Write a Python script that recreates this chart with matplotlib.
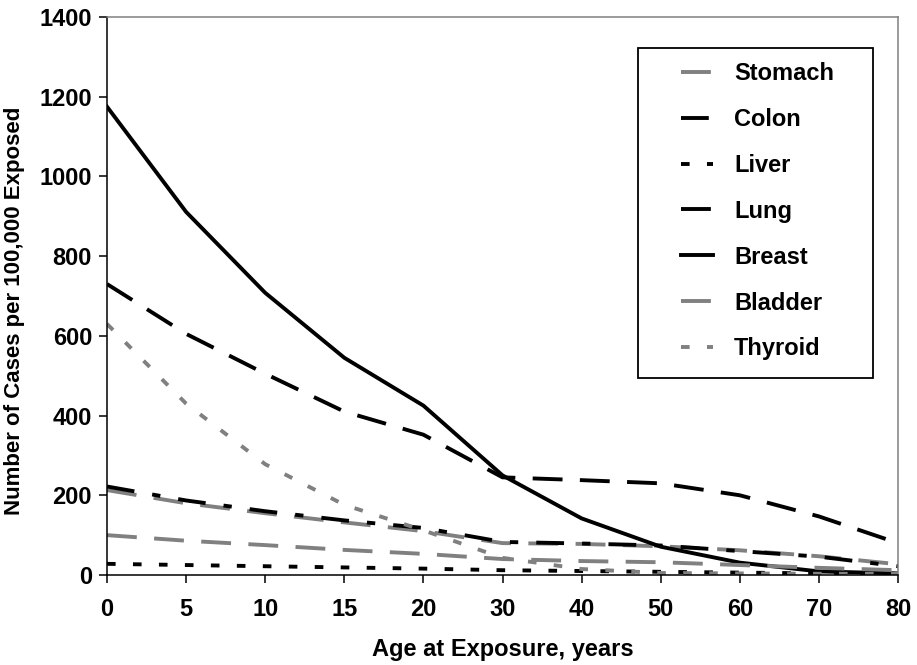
import numpy as np
import matplotlib
matplotlib.use('Agg')
import matplotlib.pyplot as plt
from matplotlib.patches import Rectangle

plt.rcParams['font.family'] = ['Liberation Sans', 'DejaVu Sans']
plt.rcParams['font.weight'] = 'bold'
plt.rcParams['axes.labelweight'] = 'bold'
plt.rcParams['lines.scale_dashes'] = False

# Age at exposure (categories, equally spaced on the axis)
ages = ['0', '5', '10', '15', '20', '30', '40', '50', '60', '70', '80']

# Cases per 100,000 exposed
stomach = [213, 180, 155, 132, 110, 80, 78, 72, 62, 47, 27]
colon = [222, 187, 160, 137, 118, 83, 79, 74, 60, 46, 22]
liver = [28, 25, 22, 19, 16, 12, 10, 8, 6, 4, 3]
lung = [730, 605, 505, 410, 352, 245, 238, 230, 200, 147, 80]
breast = [1175, 911, 708, 545, 425, 250, 142, 71, 31, 9, 4]
bladder = [100, 86, 75, 63, 53, 40, 35, 32, 25, 18, 12]
thyroid = [630, 430, 278, 176, 112, 43, 15, 5, 4, 3, 3]

gray = '#808080'
long_dash = (0, (21.5, 12.5))
dash_dot = (0, (20, 13, 6, 13))
short_dash = (0, (6.2, 12.5))
lw = 2.8

fig = plt.figure(figsize=(9.17, 6.65), dpi=100)
ax = fig.add_axes([107 / 917, 1 - 575 / 665, 791 / 917, 558 / 665])

x = np.arange(len(ages))
ax.plot(x, stomach, color=gray, linestyle=long_dash, lw=lw, label='Stomach')
ax.plot(x, colon, color='black', linestyle=dash_dot, lw=lw, label='Colon')
ax.plot(x, liver, color='black', linestyle=short_dash, lw=lw, label='Liver')
ax.plot(x, lung, color='black', linestyle=long_dash, lw=lw, label='Lung')
ax.plot(x, breast, color='black', linestyle='-', lw=lw, label='Breast')
ax.plot(x, bladder, color=gray, linestyle=long_dash, lw=lw, label='Bladder')
ax.plot(x, thyroid, color=gray, linestyle=short_dash, lw=lw, label='Thyroid')

ax.set_xlim(0, len(ages) - 1)
ax.set_ylim(0, 1400)
ax.set_xticks(x)
ax.set_xticklabels(ages)
ax.set_yticks(np.arange(0, 1401, 200))

ax.tick_params(axis='both', direction='out', length=5.8, width=1.1, labelsize=17)
ax.tick_params(axis='x', pad=11)
ax.tick_params(axis='y', pad=5)

ax.spines['left'].set_color('black')
ax.spines['bottom'].set_color('black')
ax.spines['left'].set_linewidth(1.1)
ax.spines['bottom'].set_linewidth(1.1)
ax.spines['top'].set_color(gray)
ax.spines['right'].set_color(gray)
ax.spines['top'].set_linewidth(1.1)
ax.spines['right'].set_linewidth(1.1)

ax.set_xlabel('Age at Exposure, years', fontsize=17, labelpad=12)
ax.set_ylabel('Number of Cases per 100,000 Exposed', fontsize=16)
ax.yaxis.set_label_coords(-0.104, 0.473)

leg = ax.legend(loc='upper left', bbox_to_anchor=(681 / 917, 1 - 62 / 665),
                bbox_transform=fig.transFigure, frameon=False, fontsize=17,
                handlelength=1.35, handletextpad=0.9, labelspacing=0.97,
                borderpad=0, borderaxespad=0)

fig.add_artist(Rectangle((638 / 917, 1 - 378 / 665), 235 / 917, 330 / 665,
                         transform=fig.transFigure, fill=False,
                         edgecolor='black', lw=1.3))

fig.savefig('out.png', dpi=100)
